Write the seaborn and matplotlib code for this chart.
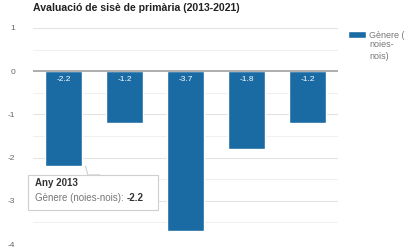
import matplotlib
matplotlib.use("Agg")
import matplotlib.pyplot as plt
import seaborn as sns
import pandas as pd
from matplotlib.patches import Patch, Rectangle, Polygon

years = ["2013", "2015", "2017", "2019", "2021"]
values = [-2.2, -1.2, -3.7, -1.8, -1.2]
yticks = [1, 0, -1, -2, -3, -4]
series_name = "Gènere (noies-nois)"
title = "Avaluació de sisè de primària (2013-2021)"

sns.set_theme(style="white")
plt.rcParams['font.family'] = ['Liberation Sans', 'DejaVu Sans']

bar_color = "#1a6aa3"
df = pd.DataFrame({"any": years, "valor": values})

fig = plt.figure(figsize=(4.13, 2.49), dpi=100)
ax = fig.add_axes([33/413, 5/249, 305/413, 216/249])

sns.barplot(data=df, x="any", y="valor", color=bar_color, width=0.6,
            saturation=1, ax=ax, zorder=3)

ax.set_ylim(-4, 1)
ax.set_xlim(-0.5, len(years) - 0.5)
ax.set_yticks(yticks)
ax.set_yticklabels([str(t) for t in yticks], fontsize=6, color="#666666")
for t in [0.5, -0.5, -1.5, -2.5, -3.5]:
    ax.axhline(t, color="#f0f0f0", lw=0.8, zorder=1)
for t in yticks:
    if t != 0:
        ax.axhline(t, color="#e3e3e3", lw=0.8, zorder=1)
ax.axhline(0, color="#a0a0a0", lw=1.2, zorder=4)
ax.tick_params(axis="y", length=0, pad=13)
ax.set_xticks([])
ax.set_xlabel("")
ax.set_ylabel("")
for s in ax.spines.values():
    s.set_visible(False)

for i, v in enumerate(values):
    ax.text(i, -0.1, f"{v}", ha="center", va="top", color="white",
            fontsize=6, zorder=5)

fig.text(33/413, 1 - 8/249, title, fontsize=7.6, fontweight="bold",
         color="#222222", va="center", ha="left")

# legend (handle aligned with the first line of the wrapped label)
leg = fig.legend(handles=[Patch(facecolor=bar_color)],
                 labels=["Gènere ("],
                 loc="upper left", bbox_to_anchor=(344/413, 1 - 27/249),
                 frameon=False, fontsize=6.5, handlelength=2.0,
                 handleheight=0.8, handletextpad=0.4, borderaxespad=0)
for t in leg.get_texts():
    t.set_color("#777777")
fig.text(369/413, 1 - 40/249, "noies-\nnois)", fontsize=6.5, color="#777777",
         va="top", ha="left", linespacing=1.45)

# tooltip
box = Rectangle((-0.58, -3.21), 2.13, 0.81, facecolor="white",
                edgecolor="#cfcfcf", lw=0.8, zorder=6, clip_on=False)
ax.add_patch(box)
tail = Polygon([(0.36, -2.19), (0.40, -2.40), (0.60, -2.40)], closed=False,
               facecolor="white", edgecolor="#cfcfcf", lw=0.8, zorder=7,
               clip_on=False)
ax.add_patch(tail)
ax.text(-0.47, -2.58, "Any 2013", fontsize=7, fontweight="bold",
        color="#333333", va="center", ha="left", zorder=8)
lbl = ax.text(-0.47, -2.94, f"{series_name}: ", fontsize=7, color="#777777",
              va="center", ha="left", zorder=8)
ax.annotate(f"{values[0]}", xy=(1, 0.5), xycoords=lbl, xytext=(0.5, 0),
            textcoords="offset points", fontsize=7, fontweight="bold",
            color="#333333", va="center", ha="left", zorder=8)

fig.savefig("out.png", dpi=100)
